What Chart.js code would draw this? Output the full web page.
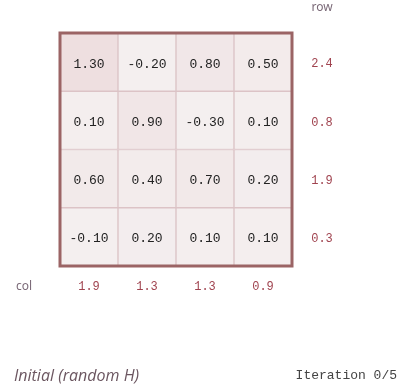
<!DOCTYPE html>
<html>
<head>
<meta charset="utf-8">
<script src="https://cdn.jsdelivr.net/npm/chart.js@4"></script>
<style>
  html, body { margin: 0; padding: 0; background: #fff; }
  #wrap { position: relative; width: 403px; height: 386px; }
</style>
</head>
<body>
<div id="wrap"><canvas id="heat"></canvas></div>
<script>
// matriz H (linhas x colunas)
const colLabels = ['c1', 'c2', 'c3', 'c4'];
const row1 = [1.3, -0.2, 0.8, 0.5];
const row2 = [0.1, 0.9, -0.3, 0.1];
const row3 = [0.6, 0.4, 0.7, 0.2];
const row4 = [-0.1, 0.2, 0.1, 0.1];
const rowSums = ['2.4', '0.8', '1.9', '0.3'];
const colSums = ['1.9', '1.3', '1.3', '0.9'];
const rows = [row1, row2, row3, row4];

const allVals = rows.flat();
const vMin = Math.min(...allVals), vMax = Math.max(...allVals);

function cellColor(v) {
    const t = Math.pow((v - vMin) / (vMax - vMin), 2);
    const a = [244, 239, 239], b = [238, 223, 224];
    const c = a.map((x, i) => Math.round(x + (b[i] - x) * t));
    return 'rgb(' + c.join(',') + ')';
}

const datasets = rows.map((r, i) => ({
    label: 'row ' + (i + 1),
    data: r.map(() => [i, i + 1]),
    values: r,
    backgroundColor: r.map(cellColor),
    borderColor: '#dcc3c6',
    borderWidth: 1,
    borderSkipped: false,
    grouped: false,
    barPercentage: 1,
    categoryPercentage: 1
}));

const mono = '"Liberation Mono", "DejaVu Sans Mono", monospace';

const labelsPlugin = {
    id: 'labels',
    afterDatasetsDraw(chart) {
        const ctx = chart.ctx;
        const xs = chart.scales.x, ys = chart.scales.y;
        const area = chart.chartArea;
        ctx.save();
        // valores das células
        ctx.font = '13px ' + mono;
        ctx.fillStyle = '#222';
        ctx.textAlign = 'center';
        ctx.textBaseline = 'middle';
        chart.data.datasets.forEach((ds, i) => {
            chart.getDatasetMeta(i).data.forEach((bar, j) => {
                const p = bar.getCenterPoint();
                ctx.fillText(ds.values[j].toFixed(2), p.x, p.y + 2);
            });
        });
        // borda externa
        ctx.strokeStyle = '#9b6465';
        ctx.lineWidth = 3;
        ctx.strokeRect(area.left, area.top, area.right - area.left, area.bottom - area.top);
        // somas
        ctx.font = '12px ' + mono;
        ctx.fillStyle = '#a0434f';
        rowSums.forEach((s, i) => {
            ctx.fillText(s, 322, ys.getPixelForValue(i + 0.5) + 2);
        });
        colSums.forEach((s, j) => {
            ctx.fillText(s, xs.getPixelForValue(j), 287);
        });
        ctx.font = '12px "Noto Sans", sans-serif';
        ctx.fillStyle = '#7b6a78';
        ctx.fillText('row', 322, 8);
        ctx.fillText('col', 24, 287);
        // rodapé
        ctx.textAlign = 'left';
        ctx.font = 'italic 16px "Open Sans", "Noto Sans", sans-serif';
        ctx.fillStyle = '#6b5660';
        ctx.fillText('Initial (random H)', 14, 376);
        ctx.textAlign = 'right';
        ctx.font = '13px ' + mono;
        ctx.fillStyle = '#444';
        ctx.fillText('Iteration 0/5', 397, 376);
        ctx.restore();
    }
};

new Chart(document.getElementById('heat'), {
    type: 'bar',
    data: { labels: colLabels, datasets: datasets },
    options: {
        responsive: true,
        maintainAspectRatio: false,
        animation: false,
        layout: { padding: { left: 60, top: 33, right: 111, bottom: 120 } },
        plugins: { legend: { display: false }, tooltip: { enabled: false } },
        scales: {
            x: { display: false },
            y: { display: false, min: 0, max: 4, reverse: true }
        }
    },
    plugins: [labelsPlugin]
});
</script>
</body>
</html>
